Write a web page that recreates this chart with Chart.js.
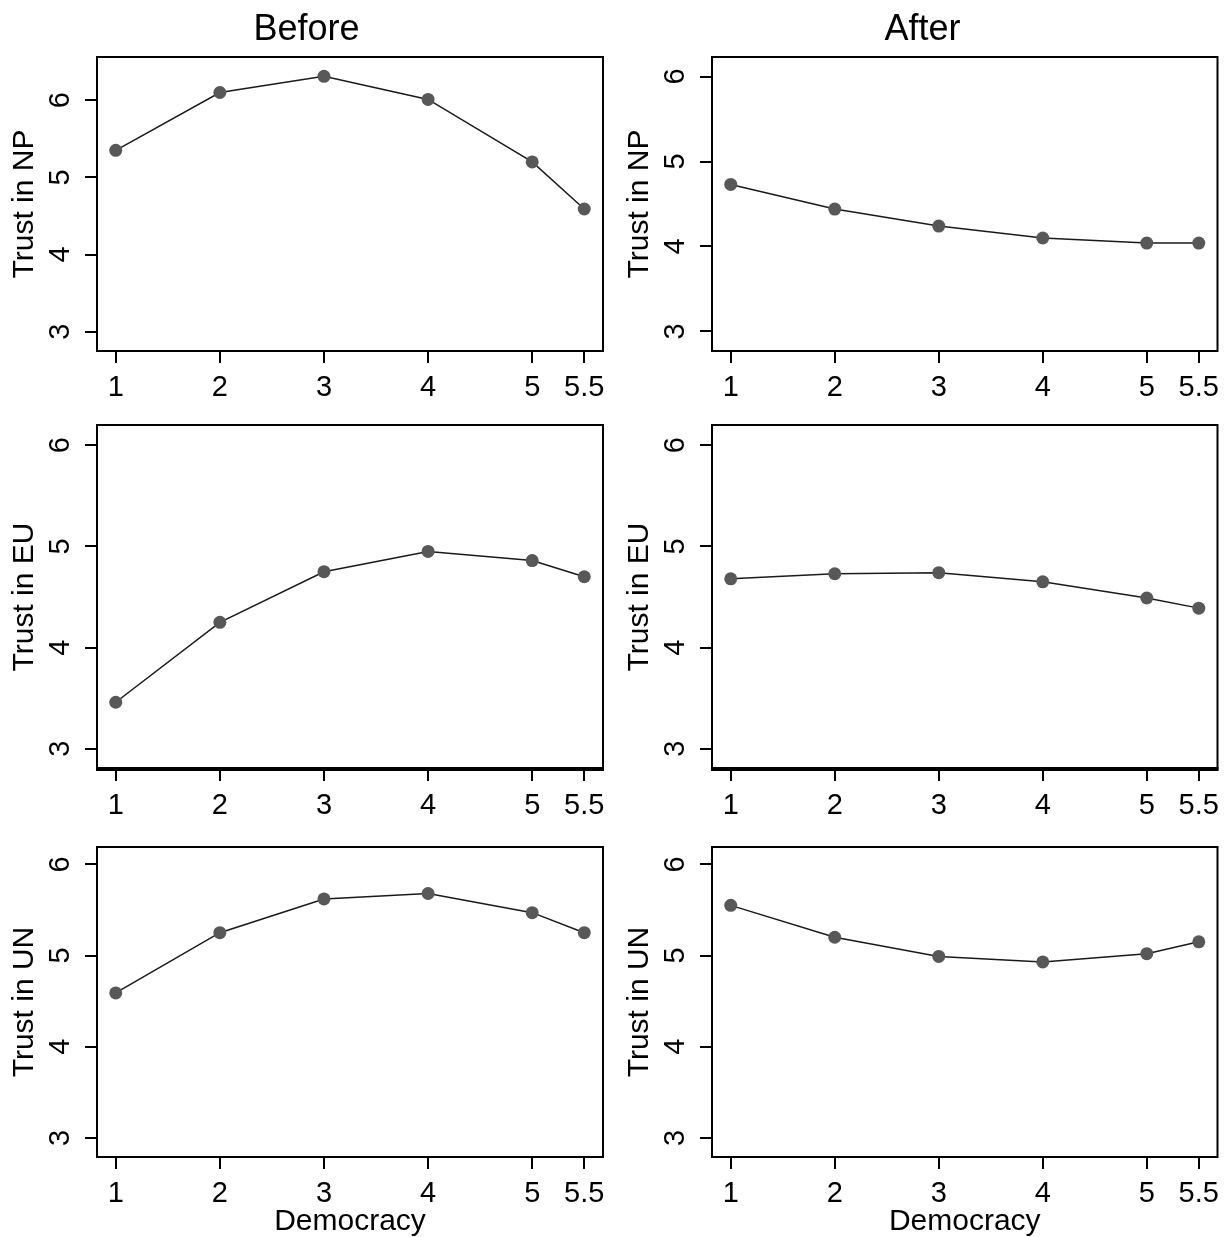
<!DOCTYPE html>
<html>
<head>
<meta charset="utf-8">
<script src="https://cdn.jsdelivr.net/npm/chart.js@4"></script>
<style>
  body { margin: 0; background: #fff; }
  canvas { position: absolute; }
</style>
</head>
<body>
<script>
// x values (Democracy) shared by every panel
const democracy = [1, 2, 3, 4, 5, 5.5];
const xTicks = [1, 2, 3, 4, 5, 5.5];
const yTicks = [3, 4, 5, 6];

// trust values
const npBefore = [5.35, 6.10, 6.31, 6.01, 5.20, 4.59];
const npAfter  = [4.73, 4.44, 4.24, 4.10, 4.04, 4.04];
const euBefore = [3.46, 4.25, 4.75, 4.95, 4.86, 4.70];
const euAfter  = [4.68, 4.73, 4.74, 4.65, 4.49, 4.39];
const unBefore = [4.59, 5.25, 5.62, 5.68, 5.47, 5.25];
const unAfter  = [5.55, 5.20, 4.99, 4.93, 5.02, 5.15];

const columnTitles = ['Before', 'After'];
const rowLabels = ['Trust in NP', 'Trust in EU', 'Trust in UN'];
const xLabel = 'Democracy';

const FONT = '"Liberation Sans", Arial, sans-serif';

// panel layout (pixels on the page)
const cols = [
  { left: 0,   width: 612, axisW: 87, padL: 10, padR: 9 },
  { left: 612, width: 612, axisW: 87, padL: 13, padR: 4 }
];
const rows = [
  { top: 0,   height: 412, padT: 0,  axisH: 61 },
  { top: 412, height: 423, padT: 13, axisH: 66 },
  { top: 835, height: 402, padT: 12, axisH: 80 }
];

const panels = [
  { row: 0, col: 0, values: npBefore, yMin: 2.75, yMax: 6.56 },
  { row: 0, col: 1, values: npAfter,  yMin: 2.77, yMax: 6.23 },
  { row: 1, col: 0, values: euBefore, yMin: 2.80, yMax: 6.20 },
  { row: 1, col: 1, values: euAfter,  yMin: 2.80, yMax: 6.20 },
  { row: 2, col: 0, values: unBefore, yMin: 2.79, yMax: 6.19 },
  { row: 2, col: 1, values: unAfter,  yMin: 2.79, yMax: 6.19 }
];

// box around the plot region, like R's box()
const boxPlugin = {
  id: 'box',
  afterDraw(chart, args, opts) {
    const { ctx, chartArea: a } = chart;
    ctx.save();
    ctx.strokeStyle = '#000';
    ctx.lineWidth = 2;
    ctx.strokeRect(a.left, a.top, a.right - a.left, a.bottom - a.top);
    if (opts.heavyBottom) {
      ctx.lineWidth = 4;
      ctx.beginPath();
      ctx.moveTo(a.left - 1, a.bottom);
      ctx.lineTo(a.right + 1, a.bottom);
      ctx.stroke();
    }
    ctx.restore();
  }
};

panels.forEach(p => {
  const c = cols[p.col];
  const r = rows[p.row];
  const canvas = document.createElement('canvas');
  canvas.width = c.width;
  canvas.height = r.height;
  canvas.style.left = c.left + 'px';
  canvas.style.top = r.top + 'px';
  document.body.appendChild(canvas);

  const isTop = p.row === 0;
  const isBottom = p.row === 2;

  new Chart(canvas.getContext('2d'), {
    type: 'line',
    data: {
      datasets: [{
        data: democracy.map((x, i) => ({ x: x, y: p.values[i] })),
        borderColor: '#1a1a1a',
        borderWidth: 1.5,
        pointRadius: 6.5,
        pointBackgroundColor: '#585858',
        pointBorderWidth: 0,
        tension: 0
      }]
    },
    options: {
      responsive: false,
      animation: false,
      devicePixelRatio: 1,
      layout: { padding: { top: r.padT, left: c.padL, right: c.padR, bottom: 0 } },
      plugins: {
        legend: { display: false },
        tooltip: { enabled: false },
        title: {
          display: isTop,
          text: columnTitles[p.col],
          color: '#000',
          font: { family: FONT, size: 36, weight: 'normal', lineHeight: 1 },
          padding: { top: 12, bottom: 9 }
        },
        box: { heavyBottom: p.row === 1 }
      },
      scales: {
        x: {
          type: 'linear',
          min: 0.82,
          max: 5.68,
          afterBuildTicks: s => { s.ticks = xTicks.map(v => ({ value: v })); },
          afterFit: s => { s.height = r.axisH; s.paddingLeft = 0; s.paddingRight = 0; },
          grid: { drawOnChartArea: false, drawTicks: true, tickLength: 12, color: '#000', lineWidth: 2 },
          border: { display: false },
          ticks: {
            autoSkip: false, maxRotation: 0, color: '#000', padding: 8,
            font: { family: FONT, size: 29 },
            callback: v => String(v)
          },
          title: {
            display: isBottom,
            text: xLabel,
            color: '#000',
            font: { family: FONT, size: 30, lineHeight: 1 },
            padding: { top: 0, bottom: 0 }
          }
        },
        y: {
          type: 'linear',
          min: p.yMin,
          max: p.yMax,
          afterBuildTicks: s => { s.ticks = yTicks.map(v => ({ value: v })); },
          afterFit: s => { s.width = c.axisW; s.paddingTop = 0; s.paddingBottom = 0; },
          grid: { drawOnChartArea: false, drawTicks: true, tickLength: 12, color: '#000', lineWidth: 2 },
          border: { display: false },
          ticks: {
            autoSkip: false, minRotation: 90, maxRotation: 90, crossAlign: 'center',
            color: '#000', padding: 16,
            font: { family: FONT, size: 29 }
          },
          title: {
            display: true,
            text: rowLabels[p.row],
            color: '#000',
            font: { family: FONT, size: 30, lineHeight: 1 },
            padding: { top: 0, bottom: 0 }
          }
        }
      }
    },
    plugins: [boxPlugin]
  });
});
</script>
</body>
</html>
